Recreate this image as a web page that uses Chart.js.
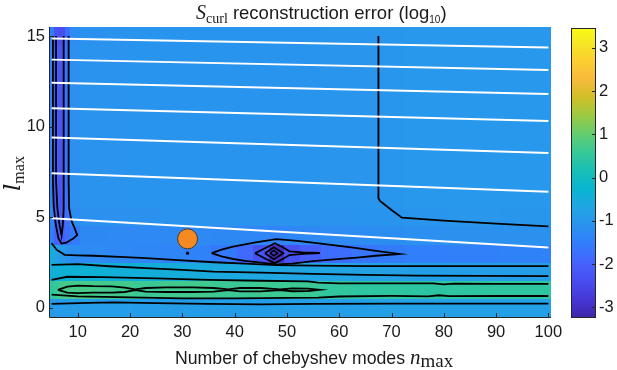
<!DOCTYPE html>
<html>
<head>
<meta charset="utf-8">
<script src="https://cdn.jsdelivr.net/npm/chart.js@4.4.0/dist/chart.umd.min.js"></script>
<style>
body { margin: 0; background: #fff; }
#wrap { position: relative; width: 617px; height: 370px; }
#grafico { position: absolute; left: 0; top: 0; }
#barra { position: absolute; left: 560px; top: 0; }
</style>
</head>
<body>
<div id="wrap">
  <canvas id="grafico" width="617" height="370"></canvas>
  <canvas id="barra" width="57" height="370"></canvas>
</div>
<script>
// ejes y ticks
const xTicks = [10, 20, 30, 40, 50, 60, 70, 80, 90, 100];
const yTicks = [0, 5, 10, 15];
const cbTicks = [-3, -2, -1, 0, 1, 2, 3];
const cbMin = -3.25, cbMax = 3.46;

// grilla del error (log10): filas l = 0..15, columnas agrupadas en n
const lRows = [0, 1, 2, 3, 4, 5, 6, 7, 8, 9, 10, 11, 12, 13, 14, 15];
const nEdges = [4.5, 5.5, 6.5, 7.5, 8.5, 10.5, 15.5, 20.5, 25.5, 30.5, 35.5, 40.5, 43.5, 46.5, 49.5, 52.5, 56.5, 62.5, 67.5, 72.5, 80.5, 90.5, 100.5];
const errL0 = [-0.92, -0.9, -0.9, -0.88, -0.88, -0.87, -0.87, -0.88, -0.88, -0.88, -0.88, -0.86, -0.86, -0.85, -0.85, -0.85, -0.83, -0.82, -0.81, -0.8, -0.8, -0.8];
const errL1 = [0.45, 0.58, 0.7, 0.72, 0.72, 0.72, 0.7, 0.62, 0.68, 0.68, 0.62, 0.6, 0.66, 0.62, 0.64, 0.6, 0.5, 0.45, 0.45, 0.44, 0.45, 0.45];
const errL2 = [-0.45, -0.4, -0.38, -0.38, -0.38, -0.4, -0.42, -0.45, -0.5, -0.55, -0.6, -0.62, -0.65, -0.66, -0.68, -0.7, -0.74, -0.78, -0.8, -0.82, -0.83, -0.83];
const errL3 = [-0.5, -0.8, -0.95, -1.1, -1.2, -1.25, -1.28, -1.32, -1.36, -1.42, -1.6, -1.85, -2.3, -3.0, -2.3, -2.05, -1.8, -1.65, -1.55, -1.48, -1.45, -1.42];
const errL4 = [-1.5, -2.0, -2.05, -1.8, -1.55, -1.3, -1.28, -1.28, -1.28, -1.28, -1.3, -1.32, -1.35, -1.4, -1.35, -1.3, -1.25, -1.22, -1.2, -1.15, -1.12, -1.1];
const errL5 = [-1.4, -2.05, -2.15, -1.75, -1.2, -1.12, -1.1, -1.09, -1.08, -1.08, -1.08, -1.08, -1.08, -1.08, -1.08, -1.08, -1.07, -1.06, -1.05, -1.03, -1.0, -0.99];
const errL6a14 = [-1.4, -2.1, -2.2, -1.7, -1.15, -1.08, -1.07, -1.06, -1.05, -1.05, -1.05, -1.05, -1.05, -1.05, -1.05, -1.05, -1.04, -1.03, -1.02, -0.98, -0.97, -0.97];
const errL15 = [-1.5, -2.3, -2.4, -1.8, -1.2, -1.1, -1.08, -1.06, -1.05, -1.05, -1.05, -1.05, -1.05, -1.05, -1.05, -1.05, -1.04, -1.03, -1.02, -0.98, -0.97, -0.97];
const errGrid = [errL0, errL1, errL2, errL3, errL4, errL5,
  errL6a14, errL6a14, errL6a14, errL6a14, errL6a14, errL6a14, errL6a14, errL6a14, errL6a14, errL15];

// curvas de nivel (n, l)
const cLinea6 = [[5, 0.22], [12, 0.28], [17, 0.31], [25, 0.27], [35, 0.22], [45, 0.2], [55, 0.22], [70, 0.24], [85, 0.24], [100, 0.24]];
const cLinea5 = [[5, 0.74], [10, 0.64], [20, 0.58], [30, 0.53], [40, 0.53], [50, 0.55], [56, 0.57], [60, 0.63], [70, 0.66], [77, 0.64], [79, 0.7], [81, 0.65], [90, 0.66], [100, 0.66]];
const cLinea3 = [[5, 1.55], [8, 1.72], [15, 1.7], [25, 1.63], [35, 1.55], [45, 1.5], [54, 1.46], [56, 1.4], [60, 1.36], [70, 1.35], [78, 1.36], [80, 1.3], [82, 1.34], [90, 1.33], [100, 1.33]];
const cLinea2 = [[5, 2.38], [10, 2.42], [16, 2.3], [23, 2.2], [30, 2.1], [36, 2.0], [45, 1.95], [55, 1.88], [65, 1.82], [75, 1.78], [100, 1.75]];
const cLinea1 = [[5, 3.57], [6, 3.2], [7.5, 2.93], [10, 2.9], [13, 2.88], [18, 2.82], [23, 2.75], [30, 2.62], [36, 2.52], [42, 2.45], [48, 2.36], [55, 2.33], [65, 2.31], [80, 2.31], [100, 2.31]];
const cVerde = [[6.2, 1.0], [8, 1.18], [10, 1.23], [13, 1.2], [16.5, 1.19], [19, 1.12], [21, 1.02], [23, 1.1], [27, 1.13], [32, 1.13], [36, 1.1], [38.8, 1.02], [41, 1.1], [45, 1.1], [48.7, 1.02], [51, 1.08], [54, 1.07], [56.3, 1.0],
  [54, 0.93], [51, 0.92], [48.7, 0.98], [45, 0.91], [41, 0.91], [38.8, 0.98], [36, 0.9], [32, 0.88], [27, 0.88], [23, 0.9], [21, 0.98], [19, 0.88], [16.5, 0.85], [13, 0.84], [10, 0.82], [8, 0.85], [6.2, 1.0]];
const cManchaExt = [[35.6, 3.02], [37.5, 3.22], [39.7, 3.38], [44, 3.62], [48, 3.8], [52, 3.7], [55.7, 3.57], [60, 3.42], [63.4, 3.3], [67, 3.15], [71.5, 2.98], [67, 2.88], [63.4, 2.78], [59, 2.68], [55, 2.58], [51, 2.45], [48, 2.4], [45, 2.5], [42, 2.6], [39.7, 2.7], [37.5, 2.85], [35.6, 3.02]];
const cManchaMed = [[43.9, 3.02], [46, 3.32], [47.7, 3.57], [49.2, 3.35], [50.5, 3.12], [53, 3.07], [56.3, 3.03], [53, 2.98], [50.5, 2.92], [49.2, 2.7], [47.7, 2.47], [46, 2.7], [43.9, 3.02]];
const cManchaInt = [[45.8, 3.02], [47.5, 3.35], [49.3, 3.02], [47.5, 2.69], [45.8, 3.02]];
const cManchaCentro = [[46.8, 3.02], [47.5, 3.17], [48.2, 3.02], [47.5, 2.87], [46.8, 3.02]];
const cFranjaExt = [[5.25, 15], [5.25, 7], [5.4, 5.6], [5.8, 4.6], [6.3, 3.85], [6.9, 3.55], [7.8, 3.6], [9.2, 3.85], [9.9, 4.02], [9.4, 4.4], [8.8, 4.8], [8.35, 5.5], [8.25, 7], [8.25, 15]];
const cFranjaInt = [[5.85, 15], [5.85, 7], [6.1, 5.5], [6.5, 4.6], [6.9, 4.0], [7.15, 4.6], [7.3, 5.5], [7.3, 7], [7.3, 15]];
const cVertical = [[67.5, 15], [67.5, 6.05], [67.8, 5.9], [70, 5.4], [72, 4.98], [80, 4.82], [90, 4.65], [100, 4.5]];

// lineas blancas
const blanca1 = [[5, 14.87], [100, 14.37]];
const blanca2 = [[5, 13.70], [100, 13.13]];
const blanca3 = [[5, 12.42], [100, 11.81]];
const blanca4 = [[5, 11.02], [100, 10.31]];
const blanca5 = [[5, 9.40], [100, 8.55]];
const blanca6 = [[5, 7.43], [100, 6.41]];
const blanca7 = [[5, 4.95], [100, 3.34]];

// marcadores
const puntoNaranja = [[31, 3.81]];
const puntoNegro = [[31, 3.02]];

// mapa de color tipo parula
const parula = [[62, 38, 168], [69, 55, 213], [72, 77, 240], [69, 99, 253], [50, 124, 252], [43, 145, 239], [32, 165, 227], [8, 181, 208], [25, 191, 182], [55, 200, 151], [100, 205, 111], [157, 201, 67], [209, 191, 39], [248, 186, 61], [252, 207, 48], [245, 233, 36], [249, 251, 21]];
const parulaPos = [0, 4, 8, 12, 16, 20, 24, 28, 32, 36, 40, 44, 48, 52, 56, 60, 63].map(p => p / 63);

function colorDe(v) {
    let t = (v - cbMin) / (cbMax - cbMin);
    t = Math.max(0, Math.min(1, t));
    let i = 0;
    while (i < parulaPos.length - 2 && t > parulaPos[i + 1]) i++;
    const f = (t - parulaPos[i]) / (parulaPos[i + 1] - parulaPos[i]);
    const a = parula[i], b = parula[i + 1];
    const c = a.map((q, k) => Math.round(q + (b[k] - q) * f));
    return `rgb(${c[0]},${c[1]},${c[2]})`;
}

const aPuntos = arr => arr.map(p => ({ x: p[0], y: p[1] }));

function curva(arr, color, ancho, orden) {
    return {
        data: aPuntos(arr),
        showLine: true,
        borderColor: color,
        borderWidth: ancho,
        pointRadius: 0,
        tension: 0,
        order: orden
    };
}

const mapaCalor = {
    id: 'mapaCalor',
    beforeDatasetsDraw(chart) {
        const { ctx, scales: { x, y } } = chart;
        ctx.save();
        errGrid.forEach((fila, i) => {
            const y0 = Math.round(y.getPixelForValue(lRows[i] + 0.5));
            const y1 = Math.round(y.getPixelForValue(lRows[i] - 0.5));
            fila.forEach((v, j) => {
                const x0 = Math.round(x.getPixelForValue(nEdges[j]));
                const x1 = Math.round(x.getPixelForValue(nEdges[j + 1]));
                ctx.fillStyle = colorDe(v);
                ctx.fillRect(x0, y0, x1 - x0, y1 - y0);
            });
        });
        ctx.restore();
    }
};

function dibujarTrozos(ctx, trozos, x0, base) {
    let x = x0;
    trozos.forEach(t => {
        ctx.font = t.font;
        ctx.fillText(t.text, x, base + (t.dy || 0));
        x += ctx.measureText(t.text).width;
    });
}

const ejes = {
    id: 'ejes',
    afterDatasetsDraw(chart) {
        const { ctx, chartArea: a, scales: { x, y } } = chart;
        ctx.save();
        ctx.strokeStyle = '#262626';
        ctx.lineWidth = 1;
        ctx.beginPath();
        ctx.moveTo(a.left + 0.5, a.top);
        ctx.lineTo(a.left + 0.5, a.bottom + 0.5);
        ctx.lineTo(a.right, a.bottom + 0.5);
        xTicks.forEach(v => {
            const px = Math.round(x.getPixelForValue(v)) + 0.5;
            ctx.moveTo(px, a.bottom);
            ctx.lineTo(px, a.bottom - 4);
        });
        yTicks.forEach(v => {
            const py = Math.round(y.getPixelForValue(v)) + 0.5;
            ctx.moveTo(a.left, py);
            ctx.lineTo(a.left + 4, py);
        });
        ctx.stroke();

        ctx.fillStyle = '#1a1a1a';
        ctx.textBaseline = 'alphabetic';
        ctx.textAlign = 'left';
        // titulo
        dibujarTrozos(ctx, [
            { text: 'S', font: 'italic 20px "Liberation Serif"' },
            { text: 'curl', font: '14px "Liberation Serif"', dy: 4 },
            { text: ' reconstruction error (log', font: '18.5px "Liberation Sans"' },
            { text: '10', font: '10px "Liberation Sans"', dy: 4 },
            { text: ')', font: '18.5px "Liberation Sans"' }
        ], 196, 19);
        // etiqueta x
        dibujarTrozos(ctx, [
            { text: 'Number of chebyshev modes ', font: '17.7px "Liberation Sans"' },
            { text: 'n', font: 'italic 21px "Liberation Serif"' },
            { text: 'max', font: '19px "Liberation Serif"', dy: 3 }
        ], 175, 364);
        // etiqueta y
        ctx.translate(20, 191);
        ctx.rotate(-Math.PI / 2);
        dibujarTrozos(ctx, [
            { text: 'l', font: 'italic 23px "DejaVu Serif"' },
            { text: 'max', font: '16px "Liberation Serif"', dy: 4 }
        ], 0, 0);
        ctx.restore();
    }
};

Chart.defaults.font.family = '"Liberation Sans", Arial, sans-serif';
Chart.defaults.font.size = 16.5;
Chart.defaults.color = '#1a1a1a';

new Chart(document.getElementById('grafico'), {
    type: 'scatter',
    data: {
        datasets: [
            {
                data: aPuntos(puntoNaranja),
                pointRadius: 10,
                backgroundColor: '#f58a22',
                borderColor: '#4a3a2c',
                borderWidth: 1,
                order: 0
            },
            {
                data: aPuntos(puntoNegro),
                pointRadius: 1.6,
                backgroundColor: '#000',
                borderWidth: 0,
                order: 0
            },
            curva(blanca1, '#fff', 2, 1),
            curva(blanca2, '#fff', 2, 1),
            curva(blanca3, '#fff', 2, 1),
            curva(blanca4, '#fff', 2, 1),
            curva(blanca5, '#fff', 2, 1),
            curva(blanca6, '#fff', 2, 1),
            curva(blanca7, '#fff', 2, 1),
            curva(cLinea1, '#000', 1.8, 2),
            curva(cLinea2, '#000', 1.8, 2),
            curva(cLinea3, '#000', 1.8, 2),
            curva(cLinea5, '#000', 1.8, 2),
            curva(cLinea6, '#000', 1.8, 2),
            curva(cVerde, '#000', 1.8, 2),
            curva(cManchaExt, '#000', 1.8, 2),
            curva(cManchaMed, '#000', 1.8, 2),
            curva(cManchaInt, '#000', 1.8, 2),
            curva(cManchaCentro, '#000', 1.5, 2),
            curva(cFranjaExt, '#000', 1.8, 2),
            curva(cFranjaInt, '#000', 1.8, 2),
            curva(cVertical, '#000', 1.8, 2)
        ]
    },
    options: {
        responsive: false,
        animation: false,
        layout: { padding: { left: 0, top: 27, right: 66, bottom: 0 } },
        plugins: {
            legend: { display: false },
            tooltip: { enabled: false }
        },
        scales: {
            x: {
                type: 'linear',
                min: 4.5,
                max: 100.5,
                afterBuildTicks: s => { s.ticks = xTicks.map(v => ({ value: v })); },
                afterFit: s => { s.height = 53; },
                grid: { display: false, drawTicks: false },
                border: { display: false },
                ticks: { padding: 6, maxRotation: 0, autoSkip: false }
            },
            y: {
                type: 'linear',
                min: -0.5,
                max: 15.5,
                afterBuildTicks: s => { s.ticks = yTicks.map(v => ({ value: v })); },
                afterFit: s => { s.width = 49; },
                grid: { display: false, drawTicks: false },
                border: { display: false },
                ticks: { padding: 4, autoSkip: false }
            }
        }
    },
    plugins: [mapaCalor, ejes]
});

const barraColor = {
    id: 'barraColor',
    beforeDatasetsDraw(chart) {
        const { ctx, chartArea: a, scales: { y } } = chart;
        ctx.save();
        const g = ctx.createLinearGradient(0, y.getPixelForValue(cbMin), 0, y.getPixelForValue(cbMax));
        parula.forEach((c, i) => g.addColorStop(parulaPos[i], `rgb(${c[0]},${c[1]},${c[2]})`));
        ctx.fillStyle = g;
        ctx.fillRect(a.left, a.top, a.right - a.left, a.bottom - a.top);
        ctx.strokeStyle = '#262626';
        ctx.lineWidth = 1;
        ctx.strokeRect(a.left + 0.5, a.top + 0.5, a.right - a.left - 1, a.bottom - a.top - 1);
        ctx.beginPath();
        cbTicks.forEach(v => {
            const py = Math.round(y.getPixelForValue(v)) + 0.5;
            ctx.moveTo(a.right, py);
            ctx.lineTo(a.right - 4, py);
        });
        ctx.stroke();
        ctx.restore();
    }
};

new Chart(document.getElementById('barra'), {
    type: 'scatter',
    data: { datasets: [] },
    options: {
        responsive: false,
        animation: false,
        layout: { padding: { left: 11, top: 28, right: 0, bottom: 52 } },
        plugins: {
            legend: { display: false },
            tooltip: { enabled: false }
        },
        scales: {
            x: { display: false, min: 0, max: 1 },
            y: {
                position: 'right',
                min: cbMin,
                max: cbMax,
                afterBuildTicks: s => { s.ticks = cbTicks.map(v => ({ value: v })); },
                afterFit: s => { s.width = 21; },
                grid: { display: false, drawTicks: false },
                border: { display: false },
                ticks: { padding: 3, autoSkip: false }
            }
        }
    },
    plugins: [barraColor]
});
</script>
</body>
</html>
